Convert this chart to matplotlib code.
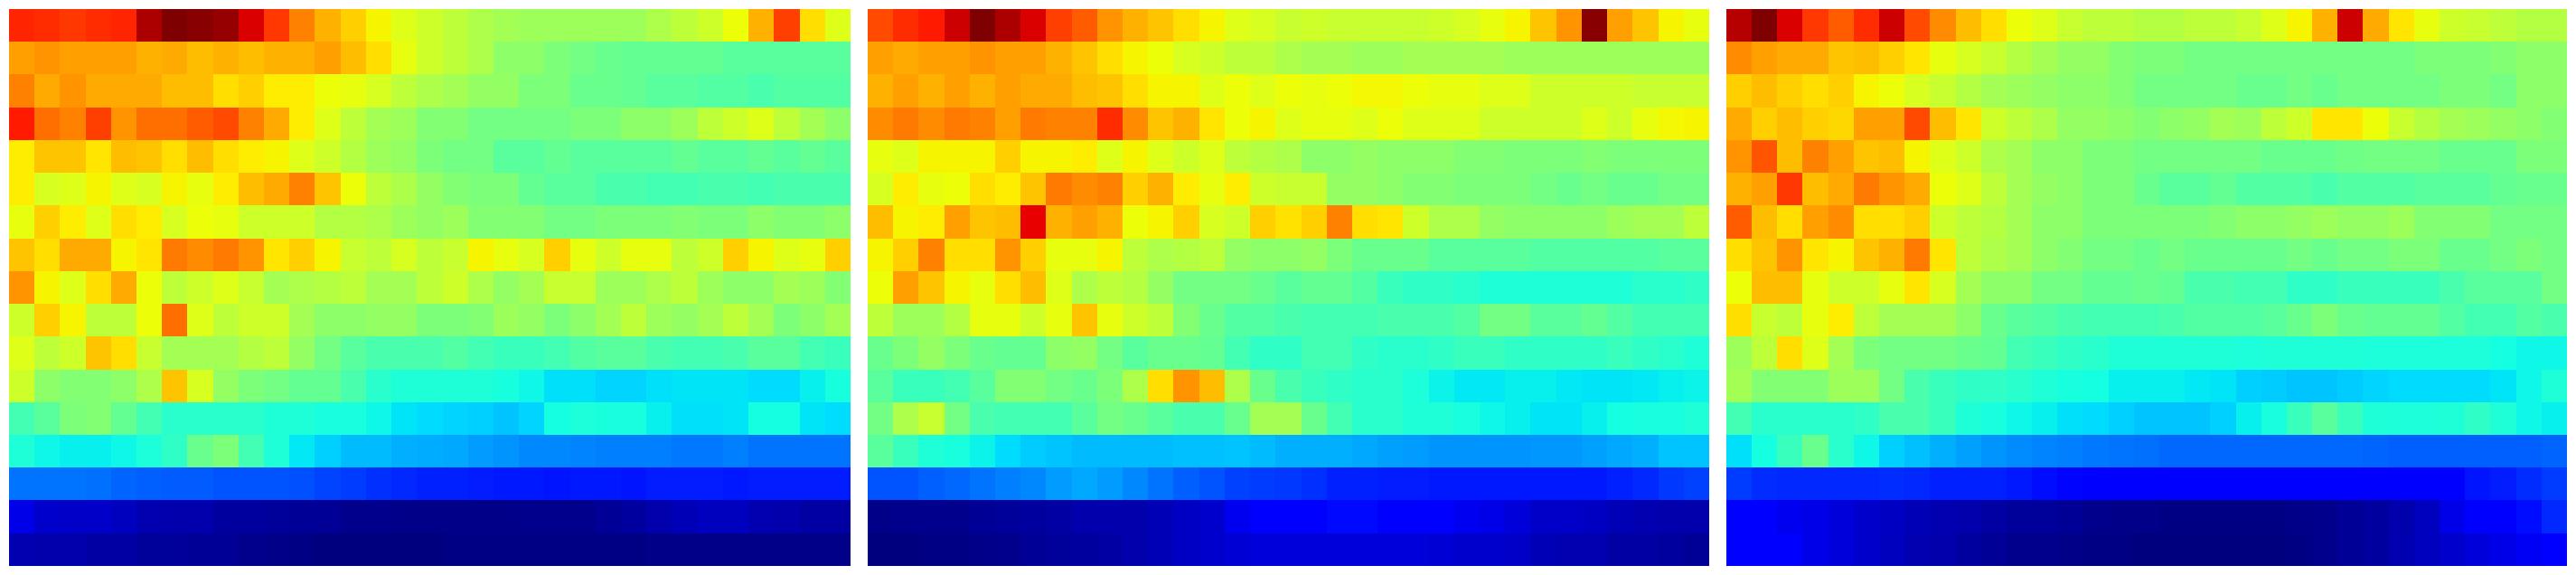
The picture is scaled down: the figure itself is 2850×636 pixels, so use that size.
import numpy as np
import matplotlib
matplotlib.use("Agg")
import matplotlib.pyplot as plt

# cell values on a 0-100 scale
# each row = 17 left columns + 16 right columns
panel_a = [
    [87,86,85,86,87,96,100,99,98,92,85,77,72,69,65,62,60, 58,56,55,54,54,54,54,54,56,58,60,64,72,84,67.5,62],
    [74,75,74,74,74,72,73,71,72,71,72,72,74,71,67.5,63,60, 58,56,52,52,50,49,48,47,47,47,47,46,46,46,46,46],
    [77,73,75,73,73,73,71,71,67.5,69,66,66,64,63,61,58,56, 55,53,53,50,50,48,48,47,46,46,45,45,44,45,45,45],
    [88,79,77,84,75,79,79,81,83,77,73,66,62,58,55,54,51, 51,49,49,49,49,50,50,52,52,54,58,60,62,58,55,52],
    [66,70,70,66.5,71,70,67.5,71,67.5,66,65,62,60,57,54,53,50, 49,49,46,46,47,46,46,46,46,47,46,46,47,46,47,46],
    [66,61,62,65,62,61,65,63,66,71,73,77,70,64,58,56,53, 51,50,50,47,46,46,44,44,43,43,44,44,43,44,44,44],
    [63,69,66,62,67.5,66,61,64,63,60,60,60,57,57,56,54,53, 54,51,51,51,49,49,50,50,50,51,50,50,52,51,51,52],
    [70,67.5,73,73,65,66.5,78,76,78,75,66.5,69,65,59,58,61,58, 59,65,63,61,69,63,60,63,63,58,60,69,65,62,63,69],
    [75,65,62,67.5,73,64,58,60,62,59,55,56,57,58,55,55,58, 60,56,53,55,59,59,54,54,56,58,54,52,52,55,54,51],
    [60,69,65,58,58,64,79,62,58,60,60,55,52,52,53,53,50, 50,51,54,53,50,52,55,58,54,53,55,58,55,50,52,55],
    [62,58,60,70,67.5,59,55,55,55,57,58,53,49,46,44,44,44, 45,43,42,42,43,45,46,46,44,43,43,44,46,46,43,42],
    [60,52,51,51,52,56,70,61,53,50,49,47,47,44,40,39,39, 39,39,38,37,34.5,34.5,33.5,33.5,34.5,35,35,35,34,34,36,38],
    [43,46,50,51,47,43,40,40,40,40,39,39,38,38,37,35,34, 33.5,33,32,33.5,37.5,38.5,38,38,36,34.5,34.5,35,37.5,37.5,35,34],
    [39,37,36,36,37,38.5,41,48,50,43,39,35.5,33,31,31,30,29.5, 29,28,27,26,26,25.5,25,25,25,24.5,24.5,25,24,24,24,24],
    [24,24,24,23.5,22.5,22,21.5,21.5,21,21,21,20.5,19.5,18.5,17.5,16.5,16, 16,15.5,15,15,14.5,15,15,14.5,15.5,15.5,15.5,15,15.5,15.5,15.5,15.5],
    [9,7,6.5,6.5,5.5,4.5,4,4,3,3,2.5,2,2,1.5,1.5,1,1, 1,1,1,1.5,1.5,1.5,2,3,4,5,5.5,5.5,4.5,4,3.5,3.5],
    [4.5,4,4,3.5,3.5,2.5,2.5,2,2,1.5,1,0.5,0,0,0,0,0, 0.5,0.5,0.5,0.5,0.5,0.5,0.5,0.5,1,1,1,1,1,1,1,1],
]

panel_b = [
    [83,86,88,93,100,96,92,84,81,75,72,70,67.5,65,62,61,59, 60,59,59,59,59,60,61,63,65,70,75,99,74,70,65,63],
    [74,73,74,74,75,74,74,72,70,67.5,65,64,61,60,58,58,56, 55,55,54,54,55,55,55,55,54,54,54,54,54,54,54,54],
    [72,74,72,74,72,74,73,73,71,70,67.5,65,65,62,64,62,64, 63,64,64.5,64.5,64,63,63,62,62,60,60,60,60,59,59,59],
    [76,78,76,78,77,74,78,77,77,86,76,70,72,66.5,64,65,62, 63,63,62,64,62,62,62,60,60,60,60,62,60,63,64.5,65],
    [63,62,65,65,65,69,65,65,66,62,65,62,60,62,58,57,56, 52,52,53,52,52,52,51,51,50,50,50,51,50,50,50,50],
    [61,66,63,64,67.5,66,70,78,76,77,69,72,66,63,66,60,59, 59,53,53,52,51,51,50,50,50,49,48,49,48,48,49,49],
    [71,65,66,74,70,71,91,72,74,72,64,65,69,61,60,69,67, 69,77,67.5,66.5,60,56,56,53,52,52,52,52,54,55,55,58],
    [65,69,77,67.5,67.5,75,69,63,63,65,58,56,57,58,53,52,52, 53,50,48,48,48,46,46,46,46,45,45,45,45,45,46,46],
    [64,74,70,65,63,67.5,71,62,56,58,57,53,49,49,49,48,46, 47,47,45,42,41,41,40,39,39,39,39,39,39,40,40,41],
    [58,54,54,57,63,63,60,63,70,63,60,58,51,48,45,45,44, 43,43,43,44,44,44,45,49,49,46,46,47,45,43,43,43],
    [48,50,53,50,48,47,47,52,53,49,46,48,48,47,43,41,41, 43,43,41,40,40,41,42,42,41,41,41,41,42,41,40,39],
    [46,42,42,43,46,51,51,49,48,50,56,67.5,75,71,56,48,44, 42,41,40,40,38.5,36.5,35.5,35.5,36,36,35.5,35,35,35.5,36,36.5],
    [49,56,59,49,44,43,43,43,46,49,48,46,44,44,48,55,55, 48,43,40,40,39,39,38,37,36,35,35,36,37.5,38,38,39],
    [46,42,39,38,36.5,34,32.5,32,31,31,31,31,31.5,31.5,32,31,30, 30,30,29,28.5,28,27,27,27,27,27.5,27.5,28.5,29,30,32,32],
    [21,21,22,23,24,25,26,28,29,28,26,24,22,21,19,18.5,18, 17.5,16,16,15.5,15.5,15,15,15,15,15,15,15,16,16.5,18,19],
    [1,1.5,1.5,1.5,2,2.5,3,3.5,4,4,4,5,6,7,10,11.5,11.5, 12.5,13.5,13.5,12.5,11.5,11,10,9,8,6.5,6.5,6,5,4.5,4,4],
    [0,0,0.5,0.5,1,1.5,2,2.5,3,3.5,4,5,6,7,7.5,8,8, 8,8,8,8,8,7.5,7,7,6.5,5,4.5,4.5,3.5,3.5,3,2],
]

panel_c = [
    [95,100,92,85,81,86,93,83,76,71,67.5,64,62,59,58,58,57, 57,58,58,59,62,65,72,93,73,66.5,63,60,59,58,57,57],
    [76,74,73,73,70,71,69,66.5,63,61,59,57,55,53,53,51,50, 50,49,49,49,49,49,49,49,49,49,50,50,50,51,52,52],
    [69,71,69,67.5,69,65,64,61,59,57,55,54,53,52,52,51,49, 49,49,49,48,48,49,48,49,49,49,49,50,50,49,52,52],
    [73,69,71,69,68,74,74,83,71,66.5,60,58,56,53,53,52,51, 52,53,55,54,58,60,66.5,66.5,64,59,57,55,54,53,52,51],
    [75,82,71,77,74,70,71,65,62,60,56,55,52,52,50,50,49, 49,49,49,49,48,48,48,48.5,49,49,49,48,48,48,50,50],
    [72,74,85,71,73,78,75,73,64,62,58,55,53,52,50,50,48, 46,46,47,45,45,45,44,45,45,45,46,46,46,47,48,48],
    [81,71,67.5,74,76,67.5,67.5,69,60,58,57,55,52,52,50,50,50, 50,50,51,52,52,53,54,53,53,54,51,51,51,49,49,49],
    [67.5,70,75,66.5,65,70,72,78,66.5,58,56,55,52,51,49,49,48, 49,48,48,48,48,49,48,49,49,50,50,48,48,49,50,49],
    [64,71,71,63,60,60,63,66.5,61,55,52,52,49,49,47,47,48, 47,44,44,43,43,41,41,42,42,42,42,44,46,46,46,49],
    [67.5,59,58,63,66,58,55,55,55,52,48,46,45,44,43,43,43, 44,45,45,45,46,48,50,48,47,47,47,45,43,43,45,44],
    [54,58,67.5,62,55,50,49,49,49,48,47,43,42,41,40,39,39, 39,39,39,38.5,39,39,39,39,38.5,38.5,38.5,38.5,38.5,37.5,37,37],
    [55,51,51,51,54,54,49,44,42,41,41,40,39,38,37.5,36,36, 36,35.5,35,33,32.5,32,32,32.5,33.5,34,34,34,34,35,37,39],
    [43,40,40,40,40,41,44,44,42,39,38,37,36,34.5,34,33,32, 32,32,33,36,38,42,46,42,39,38.5,38.5,39,41,39,37,36],
    [34.5,37.5,42,48,40,37,33,31.5,30,28.5,27,26.5,25.5,25,24.5,24,23.5, 23,23,23,23,23,23,23,23,22.5,22,22,22,22,22,22,22.5],
    [18.5,17,16.5,16.5,16.5,16.5,17,16.5,16,16,16,15,14,13,12.5,12,11, 11,11.5,11.5,11.5,11.5,11.5,11.5,11.5,11.5,11.5,11.5,12.5,14.5,15.5,17,18.5],
    [11.5,11.5,10,9,8,7,6,5,4.5,4,3.5,2.5,2.5,2,1.5,1,1, 0.5,0.5,0.5,0.5,0.5,1,1.5,2,3,4,5.5,9,11.5,12,14,16.5],
    [12,11.5,11,9,8,7,5.5,4.5,4,3,2,1.5,1.5,1,0.5,0.5,0, 0,0,0,0,0,0.5,1.5,2,3,4.5,5.5,7,8,9,10.5,11.5],
]

panels = [panel_a, panel_b, panel_c]

fig_w, fig_h = 2850, 636
fig = plt.figure(figsize=(fig_w / 100, fig_h / 100), dpi=100)

for i, values in enumerate(panels):
    left = 10 + i * 950
    ax = fig.add_axes([left / fig_w, 10 / fig_h, 930 / fig_w, 616 / fig_h])
    ax.imshow(np.array(values), cmap="jet", vmin=0, vmax=100,
              aspect="auto", interpolation="nearest")
    ax.axis("off")

fig.savefig("out.png", dpi=100)
